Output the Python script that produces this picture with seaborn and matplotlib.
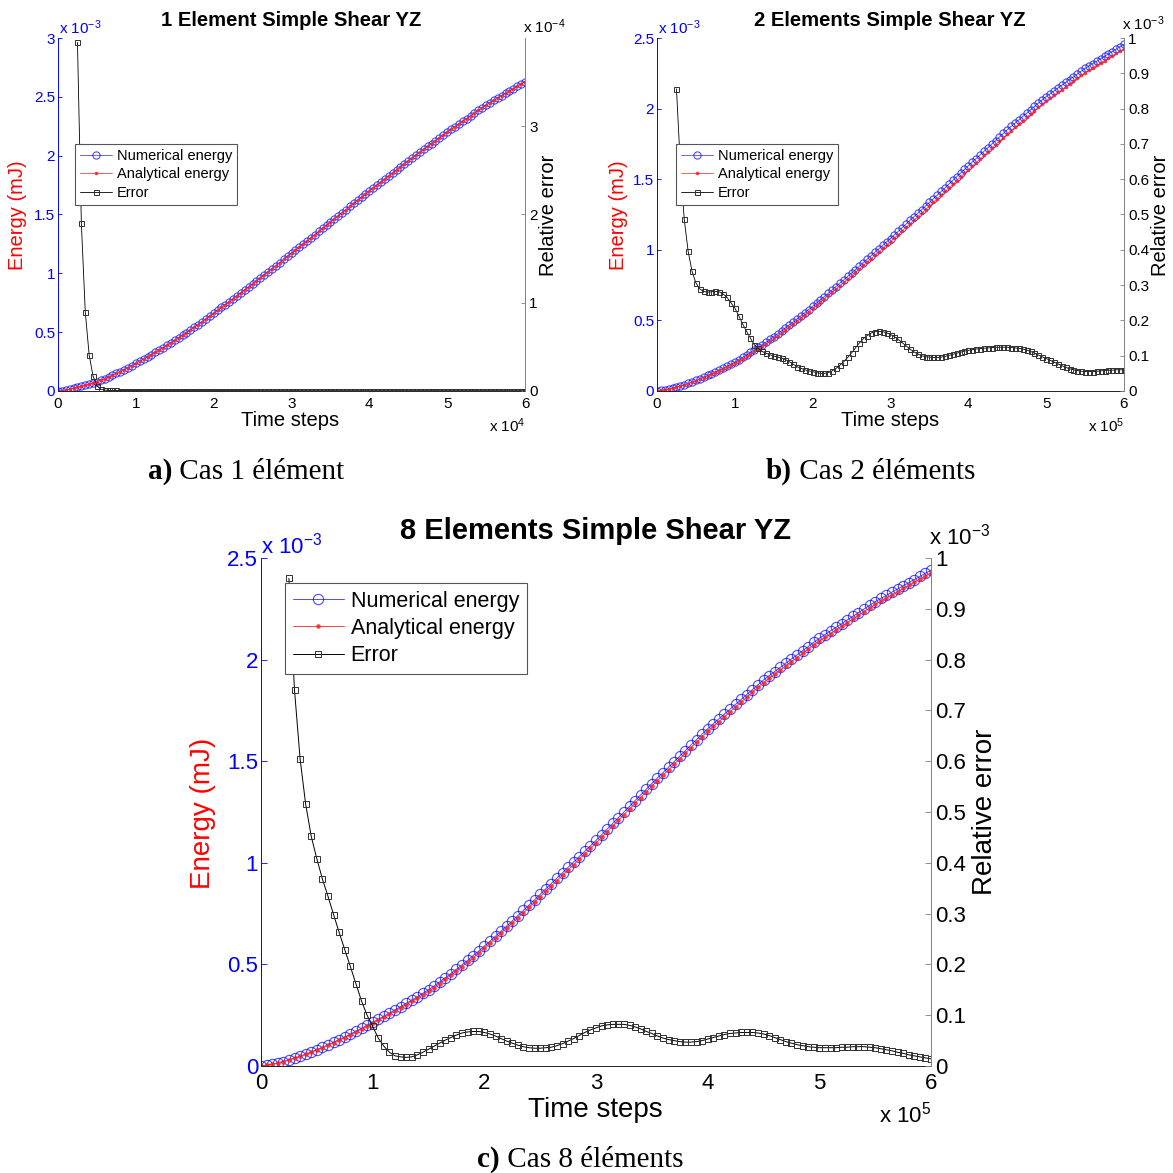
import numpy as np
import matplotlib
matplotlib.use("Agg")
import matplotlib.pyplot as plt
import seaborn as sns
from matplotlib.ticker import FuncFormatter

# time grid in units of the axis multiplier (x 10^4 for a, x 10^5 for b and c)
t = np.linspace(0, 6, 121)
t_err = t[5:]          # error curves start at 0.25

# energies in units of 1e-3 mJ
energy_num_a = [
    0.000,
    0.004, 0.009, 0.015, 0.022, 0.030, 0.039, 0.048, 0.058, 0.069, 0.080,
    0.092, 0.105, 0.119, 0.134, 0.149, 0.165, 0.181, 0.198, 0.216, 0.235,
    0.253, 0.271, 0.290, 0.309, 0.328, 0.348, 0.368, 0.388, 0.409, 0.430,
    0.452, 0.474, 0.496, 0.519, 0.542, 0.565, 0.588, 0.612, 0.636, 0.660,
    0.685, 0.710, 0.735, 0.760, 0.785, 0.810, 0.835, 0.860, 0.885, 0.910,
    0.936, 0.962, 0.988, 1.014, 1.040, 1.066, 1.092, 1.118, 1.144, 1.170,
    1.197, 1.223, 1.250, 1.276, 1.303, 1.329, 1.356, 1.382, 1.409, 1.435,
    1.462, 1.488, 1.515, 1.541, 1.568, 1.594, 1.621, 1.647, 1.674, 1.700,
    1.726, 1.751, 1.777, 1.802, 1.828, 1.853, 1.879, 1.904, 1.930, 1.955,
    1.980, 2.004, 2.029, 2.053, 2.078, 2.102, 2.127, 2.151, 2.176, 2.200,
    2.223, 2.246, 2.269, 2.292, 2.315, 2.338, 2.361, 2.384, 2.407, 2.430,
    2.450, 2.470, 2.490, 2.510, 2.530, 2.550, 2.570, 2.590, 2.610, 2.630,
]
# 1 element: analytical curve sits right on the numerical one
energy_ana_a = energy_num_a

energy_num_b = [
    0.000,
    0.004, 0.009, 0.015, 0.021, 0.028, 0.036, 0.045, 0.054, 0.064, 0.075,
    0.086, 0.098, 0.110, 0.123, 0.136, 0.149, 0.162, 0.176, 0.190, 0.205,
    0.221, 0.238, 0.255, 0.273, 0.291, 0.309, 0.327, 0.346, 0.365, 0.385,
    0.405, 0.426, 0.447, 0.468, 0.489, 0.511, 0.533, 0.555, 0.577, 0.600,
    0.623, 0.646, 0.669, 0.692, 0.716, 0.740, 0.764, 0.788, 0.812, 0.835,
    0.860, 0.884, 0.909, 0.933, 0.958, 0.982, 1.007, 1.031, 1.056, 1.080,
    1.106, 1.131, 1.157, 1.182, 1.208, 1.233, 1.259, 1.284, 1.310, 1.335,
    1.361, 1.387, 1.413, 1.439, 1.465, 1.491, 1.517, 1.543, 1.569, 1.595,
    1.621, 1.646, 1.672, 1.697, 1.723, 1.748, 1.774, 1.799, 1.825, 1.850,
    1.874, 1.897, 1.921, 1.944, 1.968, 1.991, 2.015, 2.038, 2.062, 2.085,
    2.105, 2.125, 2.145, 2.165, 2.185, 2.205, 2.225, 2.245, 2.265, 2.285,
    2.302, 2.319, 2.336, 2.353, 2.370, 2.387, 2.404, 2.421, 2.438, 2.455,
]
energy_ana_b = [
    0.000,
    0.004, 0.009, 0.014, 0.020, 0.027, 0.035, 0.043, 0.052, 0.062, 0.073,
    0.084, 0.095, 0.107, 0.119, 0.131, 0.144, 0.157, 0.170, 0.183, 0.197,
    0.213, 0.229, 0.246, 0.263, 0.281, 0.299, 0.317, 0.335, 0.354, 0.373,
    0.393, 0.413, 0.434, 0.455, 0.476, 0.497, 0.519, 0.541, 0.563, 0.585,
    0.608, 0.631, 0.654, 0.677, 0.700, 0.723, 0.746, 0.769, 0.792, 0.816,
    0.840, 0.864, 0.889, 0.913, 0.937, 0.961, 0.985, 1.010, 1.034, 1.058,
    1.083, 1.108, 1.134, 1.159, 1.184, 1.209, 1.234, 1.260, 1.285, 1.310,
    1.336, 1.361, 1.387, 1.413, 1.439, 1.464, 1.490, 1.516, 1.541, 1.567,
    1.592, 1.618, 1.643, 1.668, 1.694, 1.719, 1.744, 1.769, 1.795, 1.820,
    1.844, 1.867, 1.891, 1.914, 1.938, 1.961, 1.985, 2.008, 2.032, 2.055,
    2.075, 2.095, 2.115, 2.135, 2.155, 2.175, 2.195, 2.215, 2.235, 2.255,
    2.272, 2.289, 2.306, 2.323, 2.340, 2.357, 2.374, 2.391, 2.408, 2.425,
]

energy_num_c = [
    0.000,
    0.004, 0.009, 0.015, 0.022, 0.030, 0.039, 0.048, 0.058, 0.069, 0.080,
    0.092, 0.104, 0.117, 0.130, 0.143, 0.157, 0.171, 0.185, 0.200, 0.215,
    0.230, 0.245, 0.260, 0.276, 0.292, 0.308, 0.324, 0.341, 0.358, 0.375,
    0.394, 0.414, 0.434, 0.455, 0.476, 0.498, 0.520, 0.543, 0.566, 0.590,
    0.614, 0.639, 0.664, 0.689, 0.714, 0.740, 0.766, 0.792, 0.818, 0.845,
    0.872, 0.898, 0.925, 0.951, 0.978, 1.004, 1.031, 1.057, 1.084, 1.110,
    1.138, 1.166, 1.194, 1.222, 1.250, 1.278, 1.306, 1.334, 1.362, 1.390,
    1.417, 1.444, 1.471, 1.498, 1.525, 1.552, 1.579, 1.606, 1.633, 1.660,
    1.684, 1.708, 1.732, 1.756, 1.780, 1.804, 1.828, 1.852, 1.876, 1.900,
    1.921, 1.941, 1.962, 1.982, 2.003, 2.023, 2.044, 2.064, 2.085, 2.105,
    2.123, 2.141, 2.159, 2.177, 2.195, 2.213, 2.231, 2.249, 2.267, 2.285,
    2.301, 2.316, 2.332, 2.347, 2.363, 2.378, 2.394, 2.409, 2.425, 2.440,
]
energy_ana_c = [
    0.000,
    0.004, 0.009, 0.015, 0.022, 0.030, 0.038, 0.047, 0.057, 0.067, 0.078,
    0.090, 0.102, 0.114, 0.127, 0.140, 0.153, 0.167, 0.181, 0.195, 0.210,
    0.225, 0.240, 0.255, 0.270, 0.286, 0.302, 0.318, 0.334, 0.350, 0.367,
    0.386, 0.406, 0.426, 0.447, 0.468, 0.489, 0.511, 0.533, 0.556, 0.580,
    0.604, 0.629, 0.654, 0.679, 0.704, 0.729, 0.755, 0.781, 0.807, 0.833,
    0.859, 0.886, 0.912, 0.939, 0.965, 0.991, 1.018, 1.044, 1.071, 1.097,
    1.125, 1.153, 1.181, 1.209, 1.237, 1.265, 1.293, 1.321, 1.349, 1.377,
    1.404, 1.431, 1.458, 1.485, 1.512, 1.539, 1.566, 1.593, 1.620, 1.647,
    1.671, 1.695, 1.719, 1.743, 1.767, 1.791, 1.815, 1.839, 1.863, 1.887,
    1.908, 1.928, 1.949, 1.969, 1.990, 2.010, 2.031, 2.051, 2.072, 2.092,
    2.110, 2.128, 2.146, 2.164, 2.182, 2.200, 2.218, 2.236, 2.254, 2.272,
    2.288, 2.303, 2.319, 2.334, 2.350, 2.365, 2.381, 2.396, 2.412, 2.427,
]

# relative errors: a in units of 1e-4, b and c in units of 1e-3
error_a = [
    3.950, 1.900, 0.900, 0.410, 0.170, 0.060, 0.020, 0.010, 0.007, 0.006,
    0.006, 0.005, 0.005, 0.005, 0.005, 0.005, 0.005, 0.004, 0.004, 0.004,
    0.004, 0.004, 0.004, 0.004, 0.004, 0.004, 0.004, 0.004, 0.004, 0.004,
    0.004, 0.004, 0.004, 0.004, 0.004, 0.004, 0.004, 0.004, 0.004, 0.004,
    0.004, 0.004, 0.004, 0.004, 0.004, 0.003, 0.003, 0.003, 0.003, 0.003,
    0.003, 0.003, 0.003, 0.003, 0.003, 0.003, 0.003, 0.003, 0.003, 0.003,
    0.003, 0.003, 0.003, 0.003, 0.003, 0.003, 0.003, 0.003, 0.003, 0.003,
    0.003, 0.003, 0.003, 0.003, 0.003, 0.003, 0.003, 0.003, 0.003, 0.003,
    0.003, 0.003, 0.003, 0.003, 0.003, 0.003, 0.003, 0.003, 0.003, 0.003,
    0.003, 0.003, 0.003, 0.003, 0.003, 0.003, 0.003, 0.003, 0.003, 0.003,
    0.003, 0.003, 0.003, 0.003, 0.003, 0.003, 0.003, 0.003, 0.003, 0.003,
    0.003, 0.003, 0.003, 0.003, 0.003, 0.003,
]
error_b = [
    0.856, 0.640, 0.486, 0.396, 0.339, 0.306, 0.289, 0.282, 0.280, 0.281,
    0.282, 0.281, 0.275, 0.265, 0.250, 0.235, 0.213, 0.190, 0.169, 0.150,
    0.131, 0.121, 0.112, 0.107, 0.103, 0.099, 0.096, 0.093, 0.089, 0.083,
    0.076, 0.069, 0.064, 0.060, 0.057, 0.055, 0.052, 0.050, 0.050, 0.052,
    0.057, 0.064, 0.073, 0.083, 0.095, 0.108, 0.122, 0.136, 0.148, 0.157,
    0.164, 0.168, 0.169, 0.168, 0.165, 0.160, 0.154, 0.146, 0.137, 0.128,
    0.119, 0.111, 0.105, 0.100, 0.097, 0.096, 0.095, 0.095, 0.096, 0.098,
    0.101, 0.104, 0.107, 0.110, 0.113, 0.115, 0.117, 0.119, 0.120, 0.121,
    0.122, 0.123, 0.124, 0.124, 0.124, 0.124, 0.123, 0.122, 0.121, 0.119,
    0.116, 0.112, 0.107, 0.102, 0.097, 0.092, 0.087, 0.082, 0.077, 0.072,
    0.067, 0.063, 0.060, 0.058, 0.056, 0.055, 0.055, 0.055, 0.056, 0.057,
    0.058, 0.059, 0.059, 0.060, 0.060, 0.060,
]
error_c = [
    0.960, 0.740, 0.605, 0.515, 0.452, 0.408, 0.368, 0.334, 0.298, 0.263,
    0.229, 0.196, 0.162, 0.128, 0.100, 0.078, 0.055, 0.039, 0.027, 0.020,
    0.018, 0.017, 0.018, 0.022, 0.027, 0.033, 0.039, 0.045, 0.051, 0.056,
    0.061, 0.065, 0.067, 0.068, 0.068, 0.066, 0.063, 0.059, 0.054, 0.049,
    0.045, 0.041, 0.038, 0.036, 0.035, 0.035, 0.036, 0.037, 0.040, 0.044,
    0.049, 0.054, 0.060, 0.066, 0.071, 0.075, 0.079, 0.081, 0.082, 0.082,
    0.082, 0.080, 0.077, 0.073, 0.068, 0.064, 0.059, 0.055, 0.052, 0.050,
    0.048, 0.047, 0.047, 0.048, 0.050, 0.053, 0.056, 0.059, 0.062, 0.064,
    0.065, 0.066, 0.066, 0.066, 0.065, 0.063, 0.060, 0.056, 0.052, 0.048,
    0.045, 0.042, 0.040, 0.038, 0.037, 0.036, 0.036, 0.036, 0.036, 0.037,
    0.037, 0.038, 0.038, 0.038, 0.037, 0.036, 0.034, 0.032, 0.030, 0.027,
    0.025, 0.022, 0.020, 0.018, 0.016, 0.014,
]

titles = ["1 Element Simple Shear YZ", "2 Elements Simple Shear YZ",
          "8 Elements Simple Shear YZ"]
captions = [("a)", " Cas 1 élément"), ("b)", " Cas 2 éléments"),
            ("c)", " Cas 8 éléments")]
legend_labels = ["Numerical energy", "Analytical energy", "Error"]
energy_ticks = [[0, 0.5, 1, 1.5, 2, 2.5, 3], [0, 0.5, 1, 1.5, 2, 2.5],
                [0, 0.5, 1, 1.5, 2, 2.5]]
error_ticks = [[0, 1, 2, 3], [0, 0.1, 0.2, 0.3, 0.4, 0.5, 0.6, 0.7, 0.8, 0.9, 1],
               [0, 0.1, 0.2, 0.3, 0.4, 0.5, 0.6, 0.7, 0.8, 0.9, 1]]
energy_mult = ["-3", "-3", "-3"]
error_mult = ["-4", "-3", "-3"]
time_mult = ["4", "5", "5"]

sns.set_style("white")
plt.rcParams["font.family"] = ["Liberation Sans", "DejaVu Sans"]
plt.rcParams["text.color"] = "black"
plt.rcParams["mathtext.fontset"] = "custom"
plt.rcParams["mathtext.rm"] = "Liberation Sans"
plt.rcParams["mathtext.it"] = "Liberation Sans:italic"
plt.rcParams["mathtext.bf"] = "Liberation Sans:bold"
SERIF = ["Liberation Serif", "DejaVu Serif"]

W = 1173
fig = plt.figure(figsize=(11.73, 11.73), dpi=100)


def px(x, y):
    return x / W, 1 - y / W


fmt = FuncFormatter(lambda v, p: f"{v:g}")

# layout of each panel, all in figure pixels
small = dict(tick=11, lab=14.5, leg=10.5, title=14.6, ms_o=5.2, ms_d=2.2,
             ms_s=3.6, tl=3, hl=2.2, lw=0.6)
big = dict(tick=16, lab=20, leg=15.5, title=21, ms_o=7.4, ms_d=2.8, ms_s=5,
           tl=4.5, hl=2.4, lw=0.7)
panels = [
    dict(box=(58, 38, 525, 391), s=small, num=energy_num_a, ana=energy_ana_a,
         err=error_a, etop=3, rtop=4, title=(291, 20), elab=(18, 215),
         rlab=(548, 215), tlab=(290, 421), leg=(75, 144), emul=(59, 34),
         rmul=(523, 33), tmul=(525, 432), cap=(148, 479)),
    dict(box=(657, 38, 1124, 391), s=small, num=energy_num_b, ana=energy_ana_b,
         err=error_b, etop=2.5, rtop=1, title=(890, 20), elab=(618, 215),
         rlab=(1161, 215), tlab=(890, 421), leg=(676, 144), emul=(658, 34),
         rmul=(1122, 30), tmul=(1124, 432), cap=(766, 479)),
    dict(box=(261, 558, 931, 1066), s=big, num=energy_num_c, ana=energy_ana_c,
         err=error_c, etop=2.5, rtop=1, title=(596, 531), elab=(203, 813),
         rlab=(985, 812), tlab=(595, 1110), leg=(285, 583), emul=(261, 553),
         rmul=(929, 545), tmul=(931, 1122), cap=(477, 1167)),
]

for i, p in enumerate(panels):
    s = p["s"]
    x0, y0, x1, y1 = p["box"]
    ax = fig.add_axes([x0 / W, 1 - y1 / W, (x1 - x0) / W, (y1 - y0) / W])
    ax2 = ax.twinx()

    sns.lineplot(x=t, y=p["num"], ax=ax, color="blue", alpha=0.7,
                 linewidth=s["lw"], marker="o", markersize=s["ms_o"],
                 markerfacecolor="none", markeredgecolor="blue",
                 markeredgewidth=0.8, label=legend_labels[0], legend=False,
                 errorbar=None, estimator=None, sort=False)
    sns.lineplot(x=t, y=p["ana"], ax=ax, color="#ff2020", alpha=0.85,
                 linewidth=s["lw"], marker="o", markersize=s["ms_d"],
                 markerfacecolor="#ff2020", markeredgecolor="#ff2020",
                 markeredgewidth=0.4, label=legend_labels[1], legend=False,
                 errorbar=None, estimator=None, sort=False)
    sns.lineplot(x=t_err, y=p["err"], ax=ax2, color="black", linewidth=s["lw"],
                 marker="s", markersize=s["ms_s"], markerfacecolor="none",
                 markeredgecolor="#303030", markeredgewidth=0.7,
                 label=legend_labels[2], legend=False,
                 errorbar=None, estimator=None, sort=False)

    ax.set_xlim(0, 6)
    ax.set_ylim(0, p["etop"])
    ax.set_xticks(range(7))
    ax.set_yticks(energy_ticks[i])
    ax.xaxis.set_major_formatter(fmt)
    ax.yaxis.set_major_formatter(fmt)
    ax.set_xlabel("")
    ax.set_ylabel("")
    ax.tick_params(axis="y", colors="blue", direction="in", length=s["tl"],
                   width=0.6, labelsize=s["tick"], pad=2)
    ax.tick_params(axis="x", colors="black", direction="in", length=s["tl"],
                   width=0.6, labelsize=s["tick"], pad=4 if s is small else 5)
    for side in ["top", "right"]:
        ax.spines[side].set_visible(False)
    ax.spines["left"].set_color("blue")
    ax.spines["bottom"].set_color("#222222")
    for side in ["left", "bottom"]:
        ax.spines[side].set_linewidth(0.7)
    ax.grid(False)

    ax2.set_ylim(0, p["rtop"])
    ax2.set_yticks(error_ticks[i])
    ax2.yaxis.set_major_formatter(fmt)
    ax2.set_ylabel("")
    ax2.tick_params(axis="y", colors="#808080", labelcolor="black",
                    direction="in", length=s["tl"], width=0.6,
                    labelsize=s["tick"], pad=3)
    for side in ["top", "left", "bottom"]:
        ax2.spines[side].set_visible(False)
    ax2.spines["right"].set_color("#808080")
    ax2.spines["right"].set_linewidth(0.7)
    ax2.grid(False)

    h1, l1 = ax.get_legend_handles_labels()
    h2, l2 = ax2.get_legend_handles_labels()
    leg = ax2.legend(h1 + h2, l1 + l2, loc="upper left",
                     bbox_to_anchor=px(*p["leg"]), bbox_transform=fig.transFigure,
                     borderaxespad=0, fancybox=False, framealpha=1,
                     edgecolor="#555555", fontsize=s["leg"],
                     handlelength=s["hl"], handletextpad=0.3, borderpad=0.35,
                     labelspacing=0.3)
    leg.get_frame().set_linewidth(0.8)
    for txt in leg.get_texts():
        txt.set_color("black")

    # titles, axis labels and MATLAB-style multipliers
    fig.text(*px(*p["title"]), titles[i], fontsize=s["title"],
             fontweight="bold", ha="center", va="center")
    fig.text(*px(*p["elab"]), "Energy (mJ)", color="red", fontsize=s["lab"],
             rotation=90, ha="center", va="center")
    fig.text(*px(*p["rlab"]), "Relative error", color="black",
             fontsize=s["lab"], rotation=90, ha="center", va="center")
    fig.text(*px(*p["tlab"]), "Time steps", fontsize=s["lab"],
             ha="center", va="center")
    fig.text(*px(*p["emul"]), r"x $10^{%s}$" % energy_mult[i], color="blue",
             fontsize=s["tick"], ha="left", va="baseline")
    fig.text(*px(*p["rmul"]), r"x $10^{%s}$" % error_mult[i], color="black",
             fontsize=s["tick"], ha="left", va="baseline")
    fig.text(*px(*p["tmul"]), r"x $10^{%s}$" % time_mult[i], color="black",
             fontsize=s["tick"], ha="right", va="baseline")

# captions under each panel: bold letter then regular serif text
fig.canvas.draw()
renderer = fig.canvas.get_renderer()
for i, p in enumerate(panels):
    cx, cy = p["cap"]
    t1 = fig.text(*px(cx, cy), captions[i][0], fontsize=21, fontweight="bold",
                  family=SERIF, color="black", ha="left", va="baseline")
    bb = t1.get_window_extent(renderer=renderer)
    fig.text(bb.x1 / fig.bbox.width, 1 - cy / W, captions[i][1], fontsize=21,
             family=SERIF, color="black", ha="left", va="baseline")

fig.savefig("out.png", dpi=100, facecolor="white")
